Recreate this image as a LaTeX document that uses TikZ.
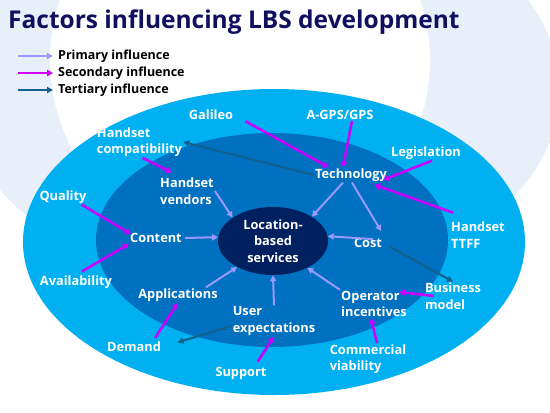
\documentclass[tikz,border=0pt]{standalone}
\usepackage{fontspec}
\setmainfont{Open Sans}
\usetikzlibrary{arrows.meta, positioning, shapes.geometric}
\definecolor{outerblue}{RGB}{0,176,240}
\definecolor{midblue}{RGB}{0,112,192}
\definecolor{coreblue}{RGB}{0,32,96}
\definecolor{titlenavy}{RGB}{16,16,96}
\definecolor{primcol}{RGB}{153,153,255}
\definecolor{seccol}{RGB}{204,0,255}
\definecolor{tertcol}{RGB}{20,96,140}
\definecolor{bgpale}{RGB}{232,239,248}
\tikzset{
  factor/.style={text=white, font=\bfseries\fontsize{12.8}{16.5}\selectfont, inner sep=1pt, align=left},
  primary/.style={primcol, line width=2pt, -{Triangle[length=6pt,width=6pt]}},
  secondary/.style={seccol, line width=2.5pt, -{Triangle[length=6pt,width=6.5pt]}},
  tertiary/.style={tertcol, line width=2pt, -{Triangle[length=6pt,width=6pt]}},
  legtext/.style={anchor=west, font=\bfseries\fontsize{12.5}{14}\selectfont, inner sep=0pt}
}
\begin{document}
\begin{tikzpicture}[x=1pt, y=-1pt]
  \useasboundingbox (0,0) rectangle (550,413);
  % background swoosh
  \fill[white] (0,0) rectangle (550,413);
  \fill[bgpale] (260,90) ellipse [x radius=300pt, y radius=200pt];
  \fill[white] (240,60) circle (190pt);
  % rings
  \fill[outerblue] (274,242) ellipse [x radius=251pt, y radius=153pt];
  \fill[midblue] (272,240) ellipse [x radius=176pt, y radius=107pt];
  \node[ellipse, fill=coreblue, minimum width=110pt, minimum height=68pt, inner sep=0pt,
        text=white, align=center, font=\bfseries\fontsize{12.8}{16.5}\selectfont] (lbs) at (273,241)
        {Location-\\based\\services};
  % title and legend
  \node[anchor=base west, inner sep=0pt, text=titlenavy, font=\bfseries\fontsize{24.5}{28}\selectfont]
        (title) at (8,28) {Factors influencing LBS development};
  \coordinate (keyP) at (18,56);
  \coordinate (keyS) at (18,73);
  \coordinate (keyT) at (18,90);
  \node[legtext] (legP) at (58,56) {Primary influence};
  \node[legtext] (legS) at (58,73) {Secondary influence};
  \node[legtext] (legT) at (58,90) {Tertiary influence};
  \draw[primary] (keyP) -- ([xshift=-5pt]legP.west);
  \draw[secondary] (keyS) -- ([xshift=-5pt]legS.west);
  \draw[tertiary] (keyT) -- ([xshift=-5pt]legT.west);
  % factors
  \node[factor] (galileo) at (211,115) {Galileo};
  \node[factor] (agps) at (340,115) {A-GPS/GPS};
  \node[factor] (compat) at (139.5,142) {Handset\\compatibility};
  \node[factor] (legis) at (426,153) {Legislation};
  \node[factor] (tech) at (351,175) {Technology};
  \node[factor] (vendors) at (187,191) {Handset\\vendors};
  \node[factor] (quality) at (63,197) {Quality};
  \node[factor] (content) at (156,238) {Content};
  \node[factor] (cost) at (368,243) {Cost};
  \node[factor] (ttff) at (478,235) {Handset\\TTFF};
  \node[factor] (avail) at (76,282) {Availability};
  \node[factor] (apps) at (178,295) {Applications};
  \node[factor] (user) at (274,321) {User\\expectations};
  \node[factor] (demand) at (134,347) {Demand};
  \node[factor] (support) at (241,373) {Support};
  \node[factor] (oper) at (374,304) {Operator\\incentives};
  \node[factor] (busi) at (453,296) {Business\\model};
  \node[factor] (comm) at (368,359) {Commercial\\viability};
  % primary influence
  \draw[primary] (vendors.east) -- (lbs.150);
  \draw[primary] ([xshift=2pt]content.east) -- (lbs.176);
  \draw[primary] ([xshift=-13pt]apps.north east) -- (lbs.216);
  \draw[primary] (user.north) -- (lbs.270);
  \draw[primary] (oper.north west) -- (lbs.322);
  \draw[primary] ([xshift=5pt,yshift=-2pt]cost.north) -- (lbs.5);
  \draw[primary] ([xshift=-8pt]tech.south) -- (lbs.32);
  \draw[primary] ([xshift=1pt]tech.south) -- ([xshift=-2pt,yshift=6pt]cost.north east);
  % secondary influence
  \draw[secondary, shorten <=13pt] (galileo.east) -- ([xshift=15pt]tech.north west);
  \draw[secondary] ([xshift=12pt]agps.south) -- ([xshift=-8pt]tech.north);
  \draw[secondary] ([xshift=6pt]legis.south) -- ([xshift=-5pt,yshift=-5pt]tech.east);
  \draw[secondary] ([xshift=3pt,yshift=8pt]ttff.north west) -- ([xshift=-14pt,yshift=-2pt]tech.south east);
  \draw[secondary] ([xshift=3pt]compat.south) -- ([xshift=13pt,yshift=4pt]vendors.north west);
  \draw[secondary] ([xshift=-6pt]quality.south east) -- ([xshift=2pt,yshift=-2pt]content.north west);
  \draw[secondary] ([xshift=6pt,yshift=3pt]avail.north) -- (content.south west);
  \draw[secondary] ([xshift=-7pt,yshift=3pt]demand.north east) -- (apps.south);
  \draw[secondary] ([xshift=-10pt,yshift=4pt]support.north east) -- (user.south);
  \draw[secondary] ([xshift=9pt]comm.north) -- ([xshift=-3pt]oper.south);
  \draw[secondary] ([xshift=10pt]busi.west) -- ([xshift=-9pt,yshift=12pt]oper.east);
  % tertiary influence
  \draw[tertiary] (tech.west) -- (compat.east);
  \draw[tertiary, shorten <=8pt] (cost.east) -- (busi.north);
  \draw[tertiary, shorten >=16pt] ([yshift=-5pt]user.west) -- (demand.east);
\end{tikzpicture}
\end{document}
